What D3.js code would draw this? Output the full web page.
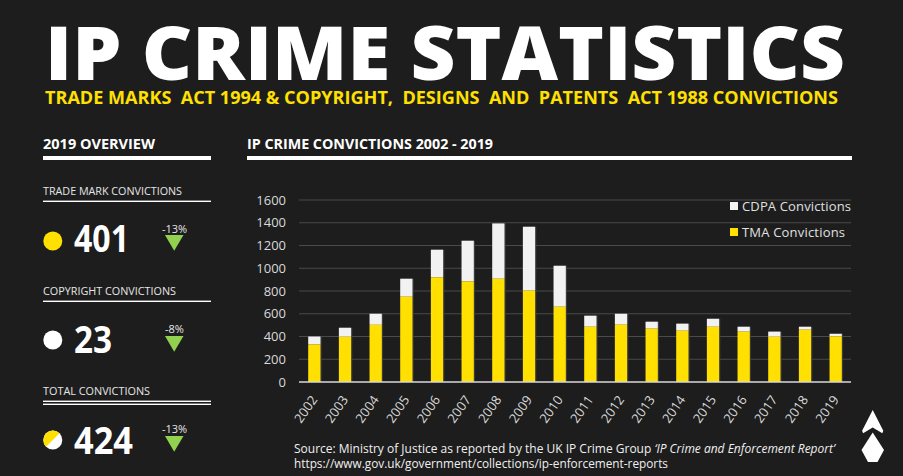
<!DOCTYPE html>
<html>
<head>
<meta charset="utf-8">
<script src="https://cdn.jsdelivr.net/npm/d3@7"></script>
<style>
  html, body { margin: 0; padding: 0; background: #1d1d1d; }
  svg { display: block; }
  text { font-family: "Open Sans", "Noto Sans", sans-serif; }
</style>
</head>
<body>
<svg id="chart" width="903" height="476"></svg>
<script>
// ---- Data ----
const years = ["2002","2003","2004","2005","2006","2007","2008","2009","2010","2011","2012","2013","2014","2015","2016","2017","2018","2019"];
const tmaConvictions  = [330, 398, 503, 750, 920, 884, 908, 803, 662, 486, 504, 469, 451, 486, 443, 398, 460, 401];
const cdpaConvictions = [ 70,  79,  97, 158, 243, 358, 486, 562, 360,  97,  96,  61,  62,  70,  43,  45,  26,  23];
const yTicks = [0, 200, 400, 600, 800, 1000, 1200, 1400, 1600];
const seriesNames = ["CDPA Convictions", "TMA Convictions"];
const overviewLabels = ["TRADE MARK CONVICTIONS", "COPYRIGHT CONVICTIONS", "TOTAL CONVICTIONS"];
const overviewValues = ["401", "23", "424"];
const overviewChanges = ["-13%", "-8%", "-13%"];

const YELLOW = "#FFE000", WHITE = "#F2F2F2", GREEN = "#92D050";

const svg = d3.select("#chart");
svg.append("rect").attr("width", 903).attr("height", 476).attr("fill", "#1d1d1d");

// ---- Header ----
svg.append("text").attr("x", 45).attr("y", 80)
  .attr("font-size", 75).attr("font-weight", 800).attr("fill", "#fff")
  .attr("textLength", 800).attr("lengthAdjust", "spacingAndGlyphs")
  .text("IP CRIME STATISTICS");
svg.append("text").attr("x", 45).attr("y", 103.5)
  .attr("font-size", 17.5).attr("font-weight", 700).attr("fill", YELLOW)
  .style("white-space", "pre")
  .attr("textLength", 793).attr("lengthAdjust", "spacingAndGlyphs")
  .text("TRADE MARKS  ACT 1994 & COPYRIGHT,  DESIGNS  AND  PATENTS  ACT 1988 CONVICTIONS");

// ---- Section headers ----
svg.append("text").attr("x", 43).attr("y", 149).attr("font-size", 14).attr("font-weight", 700)
  .attr("fill", "#fff").attr("textLength", 112).attr("lengthAdjust", "spacingAndGlyphs").text("2019 OVERVIEW");
svg.append("rect").attr("x", 43).attr("y", 156).attr("width", 168).attr("height", 4).attr("fill", "#fff");
svg.append("text").attr("x", 247).attr("y", 149).attr("font-size", 14).attr("font-weight", 700)
  .attr("fill", "#fff").attr("textLength", 246).attr("lengthAdjust", "spacingAndGlyphs").text("IP CRIME CONVICTIONS 2002 - 2019");
svg.append("rect").attr("x", 247).attr("y", 156).attr("width", 605).attr("height", 4).attr("fill", "#fff");

// ---- Overview panel ----
const ov = [
  {labelY: 195, lineY: 201.3, double: false, cy: 241, numY: 252, pctY: 233, triY: 235, tl: 139},
  {labelY: 295, lineY: 301.3, double: false, cy: 340, numY: 352.5, pctY: 333, triY: 336, tl: 133},
  {labelY: 395, lineY: 401.3, double: true,  cy: 440, numY: 454, pctY: 433, triY: 436, tl: 107}
];
const numWidths = [55, 38, 59];
ov.forEach((o, i) => {
  svg.append("text").attr("x", 43).attr("y", o.labelY).attr("font-size", 11.5).attr("fill", "#e6e6e6")
    .attr("textLength", o.tl).attr("lengthAdjust", "spacingAndGlyphs").text(overviewLabels[i]);
  svg.append("rect").attr("x", 43).attr("y", o.lineY - 0.7).attr("width", 168).attr("height", 1.4).attr("fill", "#fff");
  if (o.double) svg.append("rect").attr("x", 43).attr("y", o.lineY + 2.3).attr("width", 168).attr("height", 1.4).attr("fill", "#fff");
  const cx = 52.8, r = 9.5;
  if (i === 0) svg.append("circle").attr("cx", cx).attr("cy", o.cy).attr("r", r).attr("fill", YELLOW);
  else if (i === 1) svg.append("circle").attr("cx", cx).attr("cy", o.cy).attr("r", r).attr("fill", "#fff");
  else {
    svg.append("circle").attr("cx", cx).attr("cy", o.cy).attr("r", r).attr("fill", "#fff");
    const a = Math.SQRT1_2 * r;
    svg.append("path").attr("fill", YELLOW)
      .attr("d", `M${cx + a},${o.cy - a} A${r},${r} 0 0 0 ${cx - a},${o.cy + a} Z`);
  }
  svg.append("text").attr("x", 74).attr("y", o.numY).attr("font-size", 37).attr("font-weight", 700)
    .attr("fill", "#fff").attr("textLength", numWidths[i]).attr("lengthAdjust", "spacingAndGlyphs").text(overviewValues[i]);
  svg.append("text").attr("x", 174.5).attr("y", o.pctY).attr("font-size", 11).attr("text-anchor", "middle")
    .attr("fill", "#e6e6e6").text(overviewChanges[i]);
  svg.append("path").attr("fill", GREEN)
    .attr("d", `M165,${o.triY} L183.5,${o.triY} L174.2,${o.triY + 15.7} Z`);
});

// ---- Chart ----
const x = d3.scaleBand().domain(years).range([299, 851]).paddingInner(0.6).paddingOuter(0.3);
const y = d3.scaleLinear().domain([0, 1600]).range([382, 200]);

const grid = svg.append("g");
grid.selectAll("line").data(yTicks.filter(d => d > 0)).join("line")
  .attr("x1", 299).attr("x2", 851).attr("y1", d => y(d)).attr("y2", d => y(d))
  .attr("stroke", "#4a4a4a").attr("stroke-width", 1);

const yAxis = d3.axisLeft(y).tickValues(yTicks).tickFormat(d3.format("d")).tickSize(0).tickPadding(0);
const yg = svg.append("g").attr("transform", "translate(286,0)").call(yAxis);
yg.select(".domain").remove();
yg.selectAll("text").attr("font-size", 13).attr("fill", "#d9d9d9")
  .attr("font-family", '"Open Sans", sans-serif');

const data = years.map((yr, i) => ({yr, tma: tmaConvictions[i], cdpa: cdpaConvictions[i]}));
const bars = svg.append("g");
// subtle right-side shadow
bars.selectAll("rect.shadow").data(data).join("rect").attr("class", "shadow")
  .attr("x", d => x(d.yr) + 1.2).attr("width", x.bandwidth())
  .attr("y", d => y(d.tma + d.cdpa)).attr("height", d => y(0) - y(d.tma + d.cdpa))
  .attr("fill", "#3d3d3d");
bars.selectAll("rect.cdpa").data(data).join("rect").attr("class", "cdpa")
  .attr("x", d => x(d.yr)).attr("width", x.bandwidth())
  .attr("y", d => y(d.tma + d.cdpa)).attr("height", d => y(d.tma) - y(d.tma + d.cdpa))
  .attr("fill", WHITE);
bars.selectAll("rect.tma").data(data).join("rect").attr("class", "tma")
  .attr("x", d => x(d.yr)).attr("width", x.bandwidth())
  .attr("y", d => y(d.tma)).attr("height", d => y(0) - y(d.tma))
  .attr("fill", YELLOW);

svg.append("line").attr("x1", 299).attr("x2", 851).attr("y1", y(0)).attr("y2", y(0))
  .attr("stroke", "#d9d9d9").attr("stroke-width", 1.5);

const xAxis = d3.axisBottom(x).tickSize(0).tickPadding(0);
const xg = svg.append("g").attr("transform", "translate(0,397)").call(xAxis);
xg.select(".domain").remove();
xg.selectAll("text").attr("font-size", 13).attr("fill", "#d9d9d9")
  .attr("font-family", '"Open Sans", sans-serif')
  .attr("text-anchor", "end").attr("y", 0).attr("dy", "0.35em")
  .attr("transform", "rotate(-55)");

// Legend
const legendColors = [WHITE, YELLOW];
const lg = svg.append("g");
seriesNames.forEach((s, i) => {
  lg.append("rect").attr("x", 730).attr("y", 202 + i * 26).attr("width", 8).attr("height", 8).attr("fill", legendColors[i]);
  lg.append("text").attr("x", 742).attr("y", 210.5 + i * 26).attr("font-size", 13).attr("fill", "#e0e0e0")
    .attr("textLength", i === 0 ? 109 : 103).attr("lengthAdjust", "spacing").text(s);
});

// ---- Source ----
const src = svg.append("text").attr("x", 294).attr("y", 452.5).attr("font-size", 12).attr("fill", "#f0f0f0")
  .attr("textLength", 541).attr("lengthAdjust", "spacingAndGlyphs");
src.append("tspan").text("Source: Ministry of Justice as reported by the UK IP Crime Group ");
src.append("tspan").attr("font-style", "italic").text("\u2018IP Crime and Enforcement Report\u2019");
svg.append("text").attr("x", 294).attr("y", 467.5).attr("font-size", 12).attr("fill", "#f0f0f0")
  .attr("textLength", 374).attr("lengthAdjust", "spacingAndGlyphs")
  .text("https://www.gov.uk/government/collections/ip-enforcement-reports");

// ---- Logo ----
svg.append("path").attr("fill", "#fff")
  .attr("d", "M872.7,410 L883.3,430.7 L882.3,433.3 L872.7,427.5 L863.1,433.3 L862.1,430.7 Z");
svg.append("path").attr("fill", "#fff")
  .attr("d", "M872.7,432.5 L884,450 L877.5,462 L868,462 L861.5,450 Z");
</script>
</body>
</html>
